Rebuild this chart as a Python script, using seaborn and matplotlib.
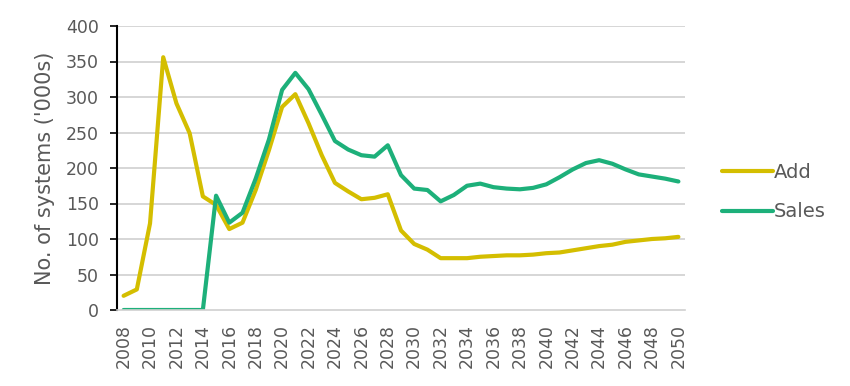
import matplotlib
matplotlib.use("Agg")
import matplotlib.pyplot as plt
import seaborn as sns
import pandas as pd

years = list(range(2008, 2051))
add_vals = [20, 29, 122, 356, 291, 249, 160, 148, 114, 123, 169, 225, 286, 304, 263,
            218, 179, 167, 156, 158, 163, 112, 93, 85, 73, 73, 73, 75, 76, 77, 77,
            78, 80, 81, 84, 87, 90, 92, 96, 98, 100, 101, 103]
sales_vals = [0, 0, 0, 0, 0, 0, 0, 161, 123, 137, 185, 240, 310, 334, 311,
              275, 238, 226, 218, 216, 232, 190, 171, 169, 153, 162, 175, 178, 173, 171, 170,
              172, 177, 187, 198, 207, 211, 206, 198, 191, 188, 185, 181]
series_names = ["Add", "Sales"]
colors = ["#D4BE00", "#1DB07A"]
yticks = [0, 50, 100, 150, 200, 250, 300, 350, 400]
xtick_labels = [str(y) for y in years[::2]]

df = pd.DataFrame({"Year": years * 2,
                   "Value": add_vals + sales_vals,
                   "Series": [series_names[0]] * len(years) + [series_names[1]] * len(years)})

sns.set_theme(style="white")
plt.rcParams['font.family'] = ['DejaVu Sans']

fig = plt.figure(figsize=(8.5, 3.86), dpi=100)
ax = fig.add_axes([117/850, 1-310/386, (685-117)/850, (310-26)/386])

sns.lineplot(data=df, x="Year", y="Value", hue="Series", palette=colors,
             linewidth=3, ax=ax, legend=True)

ax.set_xlim(2007.5, 2050.5)
ax.set_ylim(0, 400)
ax.set_yticks(yticks)
ax.set_yticklabels([str(t) for t in yticks], color="#595959", fontsize=12.5)
ax.set_xticks(years[::2])
ax.set_xticklabels(xtick_labels, rotation=90, color="#595959", fontsize=12.5)
ax.tick_params(axis="x", length=0, pad=10)
ax.tick_params(axis="y", direction="out", length=5, width=1.2, color="black", left=True, pad=8)

for t in yticks[1:]:
    ax.axhline(t, color="#D0D0D0", linewidth=1.2, zorder=0)

for s in ["top", "right"]:
    ax.spines[s].set_visible(False)
ax.spines["left"].set_color("black")
ax.spines["left"].set_linewidth(1.5)
ax.spines["bottom"].set_color("#D0D0D0")
ax.spines["bottom"].set_linewidth(1.2)

ax.set_xlabel("")
ax.set_ylabel("No. of systems ('000s)", color="#595959", fontsize=15, labelpad=8)

leg = ax.legend(loc="center left", bbox_to_anchor=(1.035, 0.415), frameon=False,
                fontsize=14, handlelength=2.6, handletextpad=0.05, labelspacing=1.05)
for txt in leg.get_texts():
    txt.set_color("#595959")

fig.savefig("out.png", dpi=100)
